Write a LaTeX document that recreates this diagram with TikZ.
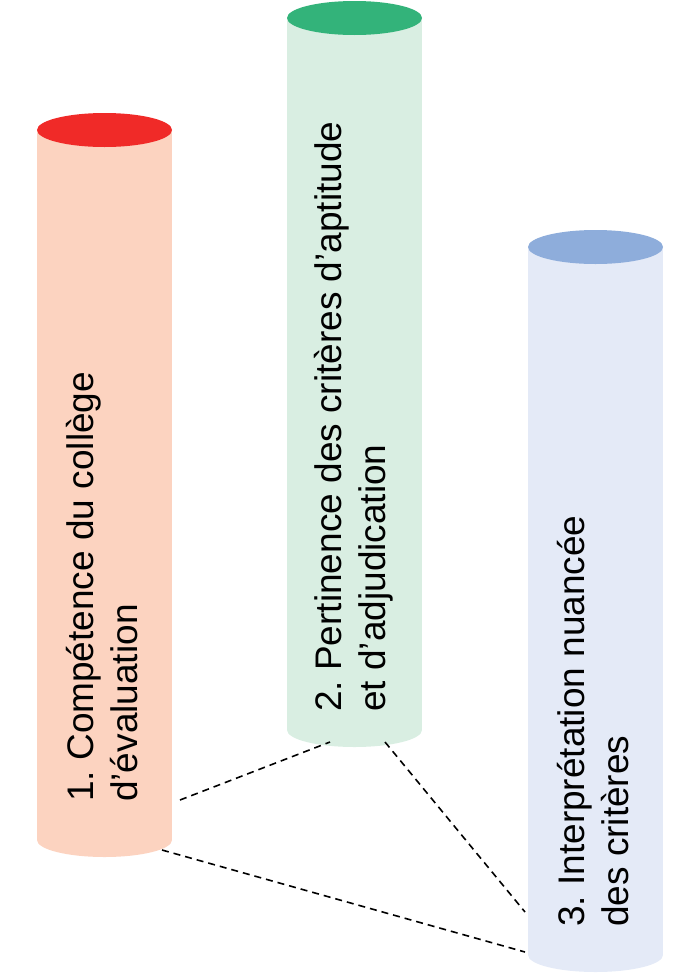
\documentclass[tikz,border=0pt]{standalone}
\usepackage{fontspec}
\setmainfont{Liberation Sans}
\definecolor{capred}{HTML}{F02A28}
\definecolor{bodyred}{HTML}{FCD3C0}
\definecolor{capgreen}{HTML}{33B37A}
\definecolor{bodygreen}{HTML}{D9EEE2}
\definecolor{capblue}{HTML}{8EADDB}
\definecolor{bodyblue}{HTML}{E4EAF7}
\begin{document}
\frenchspacing
\begin{tikzpicture}[x=1pt,y=-1pt]
    \tikzstyle{label}=[rotate=90, anchor=north west, inner sep=0pt, align=left, font=\fontsize{37}{44}\selectfont]
    \tikzstyle{link}=[black, dash pattern=on 7pt off 5pt, line width=1.6pt]
    \useasboundingbox (0,0) rectangle (700,980);

    % cylinders: \cyl{x}{top}{bottom}{cap}{body}
    \newcommand{\cyl}[5]{
        \fill[#5] (#1,#2) rectangle (#1+135,#3);
        \fill[#5] (#1,#3) arc[start angle=180, end angle=360, x radius=67.5, y radius=-17];
        \fill[#4] (#1+67.5,#2) ellipse[x radius=67.5, y radius=17];
    }
    \cyl{37}{130}{840}{capred}{bodyred}
    \cyl{287}{18}{730}{capgreen}{bodygreen}
    \cyl{528}{247}{955}{capblue}{bodyblue}

    \node[label] (t1) at (66,802) {1. Compétence du collège\\d’évaluation};
    \node[label] (t2) at (314,712) {2. Pertinence des critères d’aptitude\\et d’adjudication};
    \node[label] (t3) at (557,927) {3. Interprétation nuancée\\des critères};

    \coordinate (a1) at (180,800);
    \coordinate (a2) at (162,850);
    \coordinate (b1) at (330,742);
    \coordinate (b2) at (385,742);
    \coordinate (c1) at (525,912);
    \coordinate (c2) at (525,952);

    \draw[link] (a1) -- (b1);
    \draw[link] (b2) -- (c1);
    \draw[link] (a2) -- (c2);
\end{tikzpicture}
\end{document}
